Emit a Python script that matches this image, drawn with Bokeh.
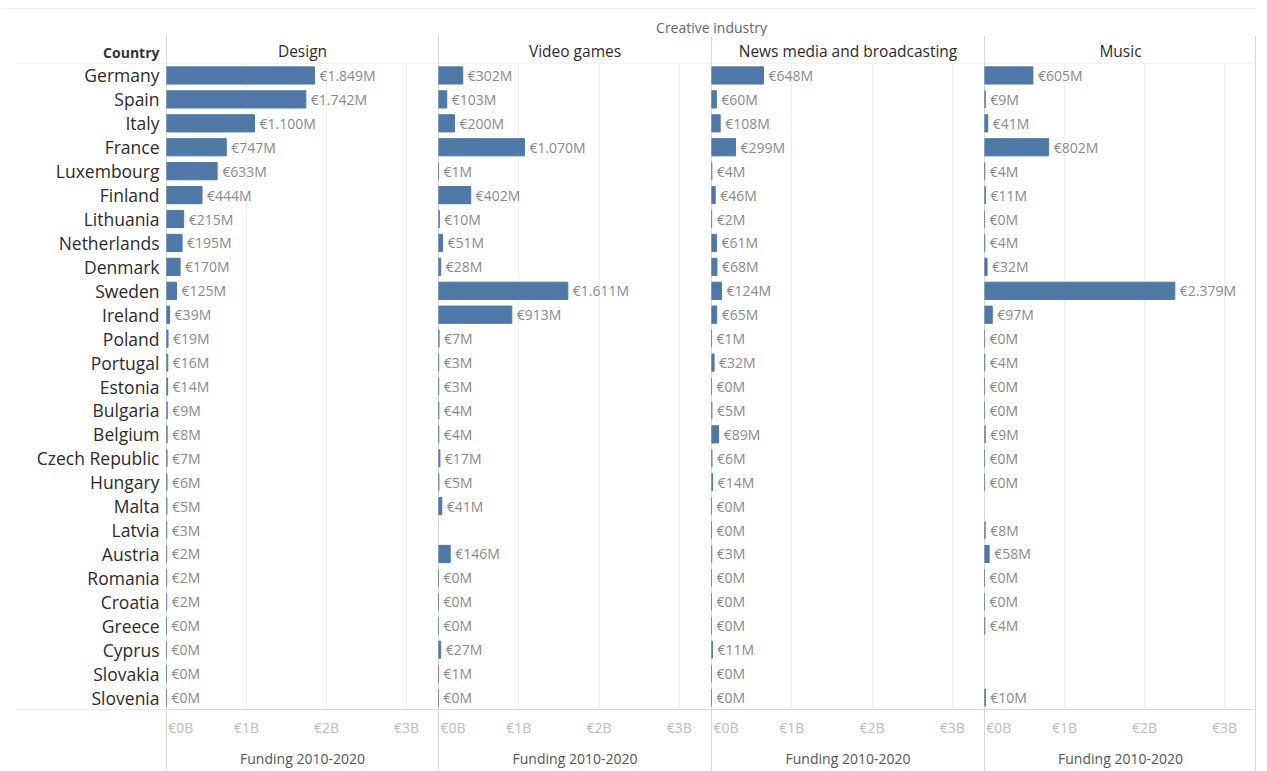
from bokeh.plotting import figure
from bokeh.layouts import row, column
from bokeh.models import FactorRange, Range1d, FixedTicker, Span
from bokeh.embed import file_html
from bokeh.resources import INLINE
from bokeh.core.properties import value

# ---------------- data ----------------
countries = ["Germany", "Spain", "Italy", "France", "Luxembourg", "Finland", "Lithuania",
             "Netherlands", "Denmark", "Sweden", "Ireland", "Poland", "Portugal", "Estonia",
             "Bulgaria", "Belgium", "Czech Republic", "Hungary", "Malta", "Latvia", "Austria",
             "Romania", "Croatia", "Greece", "Cyprus", "Slovakia", "Slovenia"]
industries = ["Design", "Video games", "News media and broadcasting", "Music"]
design = [1849, 1742, 1100, 747, 633, 444, 215, 195, 170, 125, 39, 19, 16, 14, 9, 8, 7, 6, 5, 3,
          2, 2, 2, 0, 0, 0, 0]
video_games = [302, 103, 200, 1070, 1, 402, 10, 51, 28, 1611, 913, 7, 3, 3, 4, 4, 17, 5, 41, None,
               146, 0, 0, 0, 27, 1, 0]
news_media = [648, 60, 108, 299, 4, 46, 2, 61, 68, 124, 65, 1, 32, 0, 5, 89, 6, 14, 0, 0,
              3, 0, 0, 0, 11, 0, 0]
music = [605, 9, 41, 802, 4, 11, 0, 4, 32, 2379, 97, 0, 4, 0, 0, 9, 0, 0, None, 8,
         58, 0, 0, 4, None, None, 10]
series = [design, video_games, news_media, music]
tick_values = [0, 1000, 2000, 3000]
tick_labels = ["€0B", "€1B", "€2B", "€3B"]
axis_title = "Funding 2010-2020"
group_title = "Creative industry"
row_header = "Country"

# ---------------- style ----------------
FONT = "Open Sans"
BAR = "#4e79a7"
SEP = "#d6d6d6"
FAINT = "#e8e8e8"
HEAD_H = 36
FIG_H = 734
TOP = 26
BOTTOM = 58
panel_widths = [272, 273, 273, 272]
X_MAX = 3400
order = countries[::-1]
# Tableau-style: the first tick label sits just inside the pane edge instead of centred on it
edge_shift = 180


def fmt(v):
    return "€" + f"{v:,}".replace(",", ".") + "M"


# header strip
head = figure(width=1256, height=HEAD_H, x_range=Range1d(0, 1256), y_range=Range1d(HEAD_H, 0),
              output_backend="svg", toolbar_location=None, min_border=0,
              x_axis_location=None, y_axis_location=None, outline_line_color=None)
head.grid.visible = False
head.text(x=[711], y=[27], text=[group_title], text_align="center", text_baseline="middle",
          text_font=value(FONT), text_font_size="14px", text_color="#666666")
head.add_layout(Span(location=8, dimension="width", line_color="#f0f0f0", line_width=1))

# country label column
lab = figure(width=166, height=FIG_H, x_range=Range1d(0, 1), y_range=FactorRange(factors=order, range_padding=0),
             output_backend="svg", toolbar_location=None, min_border_left=15, min_border_right=0,
             min_border_top=TOP, min_border_bottom=BOTTOM, x_axis_location=None, y_axis_location=None,
             outline_line_color=None, title=row_header, title_location="above")
lab.grid.visible = False
lab.title.align = "right"
lab.title.text_font = FONT
lab.title.text_font_size = "14px"
lab.title.text_font_style = "bold"
lab.title.text_color = "#333333"
lab.title.standoff = 3
lab.title.offset = 7
lab.text(x=[1] * len(countries), y=countries, text=countries, x_offset=-7, text_align="right",
         text_baseline="middle", text_font=value(FONT), text_font_size="17.5px",
         text_font_style="normal", text_color="#2b2b2b")
lab.add_layout(Span(location=len(countries), dimension="width", line_color=FAINT))
lab.add_layout(Span(location=0, dimension="width", line_color=SEP))

panels = []
for i, (name, vals, w) in enumerate(zip(industries, series, panel_widths)):
    p = figure(width=w, height=FIG_H, x_range=Range1d(0, X_MAX),
               y_range=FactorRange(factors=order, range_padding=0),
               output_backend="svg", toolbar_location=None, min_border_left=0, min_border_right=0,
               min_border_top=TOP, min_border_bottom=BOTTOM, y_axis_location=None,
               outline_line_color=None, title=name, title_location="above",
               border_fill_color=None, background_fill_color=None)
    shadow = f"inset 1px 0 0 {SEP}"
    if i == len(industries) - 1:
        shadow += f", inset -1px 0 0 {SEP}"
    p.styles = {"box-shadow": shadow}
    p.title.align = "center"
    p.title.text_font = FONT
    p.title.text_font_size = "15.5px"
    p.title.text_font_style = "normal"
    p.title.text_color = "#2b2b2b"
    p.title.standoff = 3
    ys = [c for c, v in zip(countries, vals) if v is not None]
    xs = [v for v in vals if v is not None]
    p.hbar(y=ys, left=0, right=xs, height=0.72, color=BAR)
    p.text(x=xs, y=ys, text=[fmt(v) for v in xs], x_offset=5, text_align="left",
           text_baseline="middle", text_font=value(FONT), text_font_size="14px", text_color="#8a8a8a")
    p.ygrid.visible = False
    p.xgrid.ticker = FixedTicker(ticks=tick_values[1:])
    p.xgrid.grid_line_color = "#efefef"
    ax = p.xaxis[0]
    label_pos = [tick_values[0] + edge_shift] + tick_values[1:]
    ax.ticker = FixedTicker(ticks=label_pos)
    ax.major_label_overrides = dict(zip(label_pos, tick_labels))
    ax.major_tick_line_color = None
    ax.minor_tick_line_color = None
    ax.major_tick_out = 0
    ax.major_tick_in = 0
    ax.axis_line_color = SEP
    ax.major_label_standoff = 8
    ax.major_label_text_font = FONT
    ax.major_label_text_font_size = "14px"
    ax.major_label_text_color = "#bdbdbd"
    ax.axis_label = axis_title
    ax.axis_label_standoff = 9
    ax.axis_label_text_font = FONT
    ax.axis_label_text_font_size = "14px"
    ax.axis_label_text_font_style = "normal"
    ax.axis_label_text_color = "#555555"
    p.add_layout(Span(location=len(countries), dimension="width", line_color=FAINT))
    panels.append(p)

layout = column(head, row(lab, *panels))
open("out.html", "w").write(file_html(layout, INLINE))
